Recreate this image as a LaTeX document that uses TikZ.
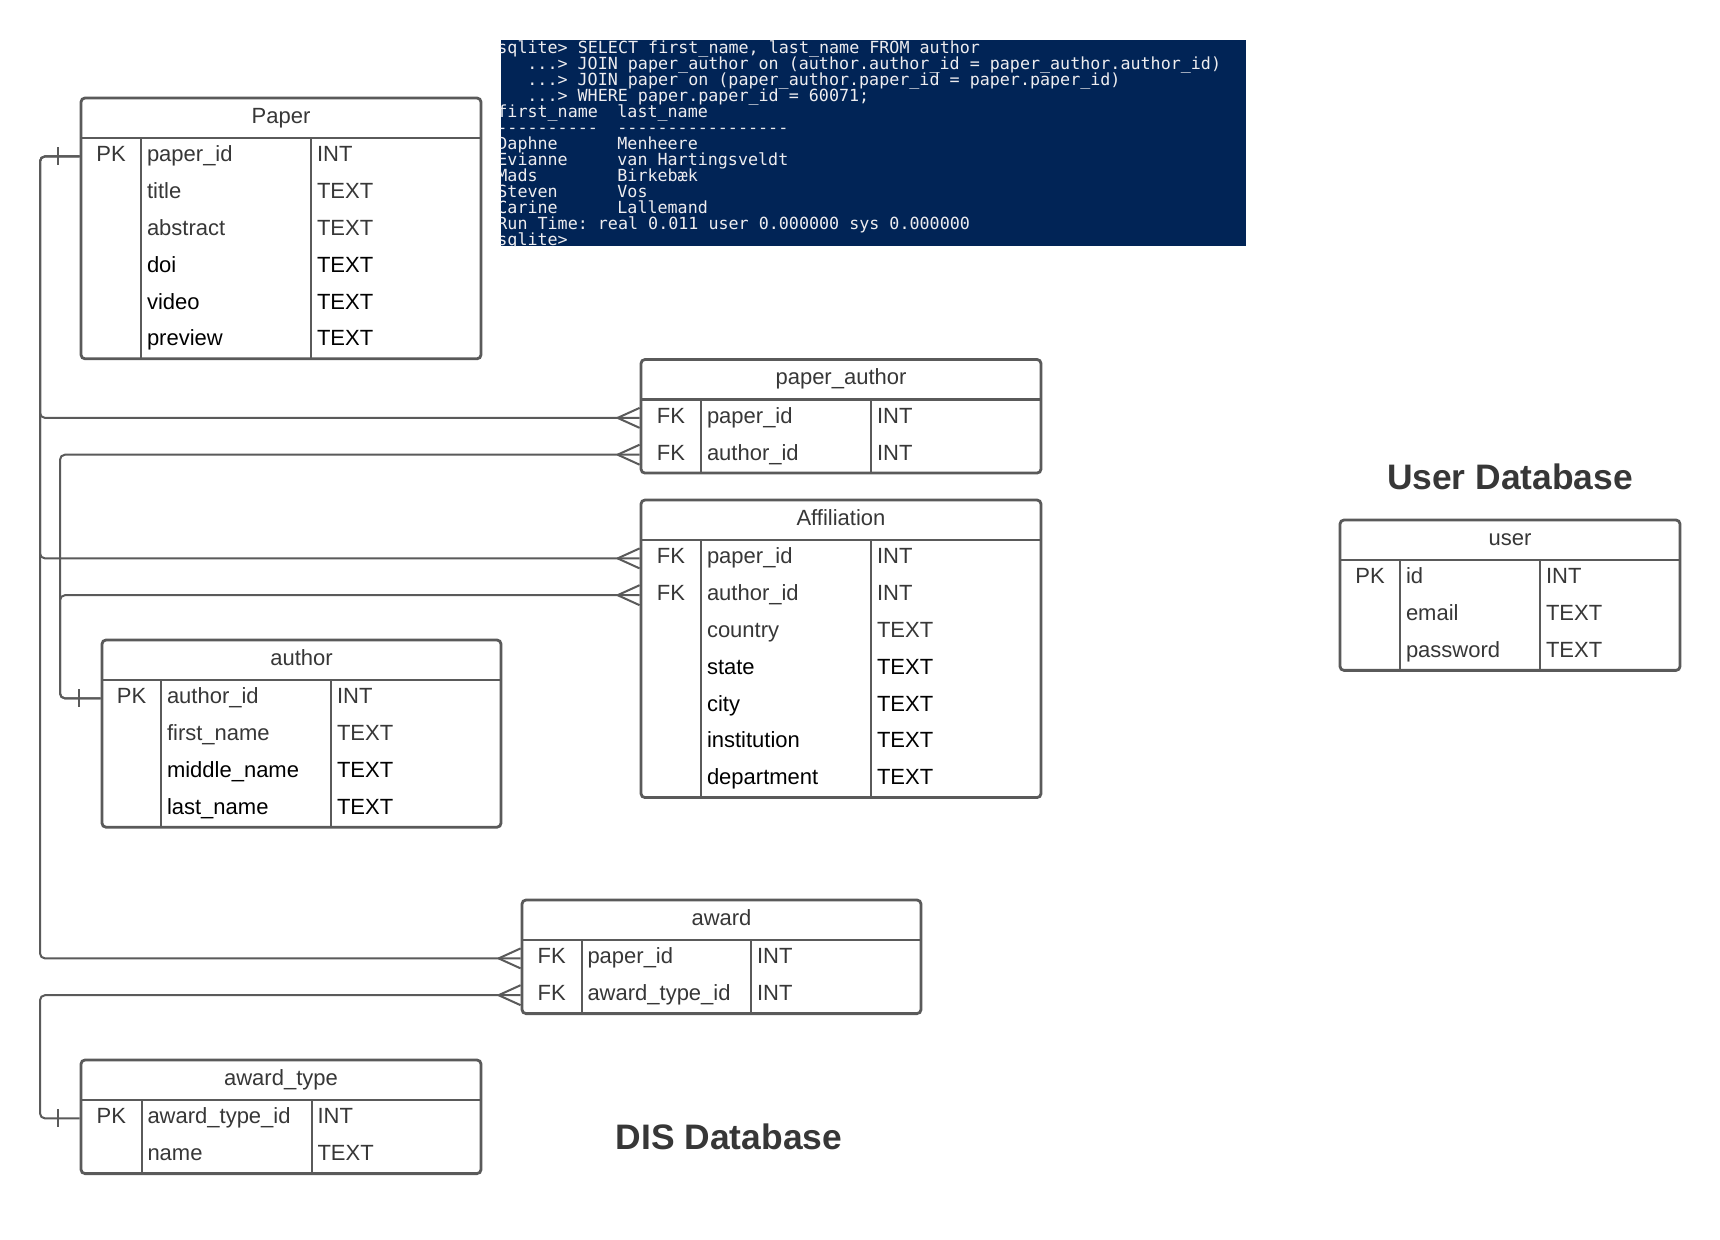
\documentclass[tikz,border=0pt]{standalone}
\usepackage{fontspec}
\setmainfont{Liberation Sans}
\newfontfamily\termfont[Ligatures=TeXOff]{DejaVu Sans Mono}
\usetikzlibrary{fit,calc}
\definecolor{lineg}{RGB}{90,90,90}
\definecolor{txtg}{RGB}{55,55,55}
\definecolor{termbg}{RGB}{1,36,86}
\definecolor{termfg}{RGB}{238,237,240}
\tikzset{
 tbl/.style={draw=lineg, line width=1.4pt, rounded corners=2pt, inner sep=0pt},
 hline/.style={draw=lineg, line width=1.4pt},
 coldiv/.style={draw=lineg, line width=1pt},
 cell/.style={inner sep=0pt, outer sep=0pt, text height=7.5pt, text depth=2pt, font=\fontsize{11}{13}\selectfont},
 gtxt/.style={text=txtg},
 btxt/.style={text=black},
 conn/.style={draw=lineg, line width=1pt, rounded corners=2.5pt},
 crowfoot/.pic={\draw[conn, rounded corners=0pt] (-22,0) -- (0,-10) (-22,0) -- (0,10);},
 onebar/.pic={\draw[conn, rounded corners=0pt] (-22,-9) -- (-22,9);},
 termline/.style={inner sep=0pt, anchor=base west, text=termfg, font=\termfont\fontsize{8.35}{8}\selectfont\frenchspacing},
 dbtitle/.style={inner sep=0pt, anchor=base, text=txtg, font=\bfseries\fontsize{17.7}{20}\selectfont},
}
\newcommand\erdtable[9]{%
 \pgfmathsetmacro\yh{#3+40}%
 \pgfmathsetmacro\yb{#3+40+36.8*#7}%
 \pgfmathsetmacro\xm{(#2+#4)/2}%
 \pgfmathsetmacro\xk{(#2+#5)/2}%
 \coordinate (#1-nw) at (#2,#3);
 \coordinate (#1-se) at (#4,\yb);
 \node[tbl, fit=(#1-nw)(#1-se)] (#1) {};
 \draw[hline] (#2,\yh) -- (#4,\yh);
 \draw[coldiv] (#5,\yh) -- (#5,\yb) (#6,\yh) -- (#6,\yb);
 \node[cell,gtxt] (#1-title) at (\xm,#3+20) {#8};
 \foreach \rk/\rf/\rt/\rc [count=\ri] in {#9} {
   \pgfmathsetmacro\yy{\yh+18.4+36.8*(\ri-1)}
   \node[cell,\rc] (#1-k\ri) at (\xk,\yy) {\rk};
   \node[cell,\rc,anchor=west] (#1-f\ri) at (#5+6,\yy) {\rf};
   \node[cell,\rc,anchor=west] (#1-t\ri) at (#6+6,\yy) {\rt};
 }
}
\begin{document}
\begin{tikzpicture}[x=0.5pt,y=-0.5pt]
\fill[white] (0,0) rectangle (1720,1240);
\useasboundingbox (0,0) rectangle (1720,1240);

% terminal screenshot
\coordinate (tnw) at (501,40);
\coordinate (tse) at (1246,246);
\node[fit=(tnw)(tse), inner sep=0pt, fill=termbg] (term) {};
\begin{scope}
\clip (term.south west) rectangle (term.north east);
\node[termline] (tl1) at (497,54) {sqlite> SELECT first\_name, last\_name FROM author};
\node[termline] (tl2) at (527,70) {...> JOIN paper\_author on (author.author\_id = paper\_author.author\_id)};
\node[termline] (tl3) at (527,86) {...> JOIN paper on (paper\_author.paper\_id = paper.paper\_id)};
\node[termline] (tl4) at (527,102) {...> WHERE paper.paper\_id = 60071;};
\node[termline] (tl5a) at (497,118) {first\_name};
\node[termline] (tl5b) at (617,118) {last\_name};
\node[termline] (tl6a) at (497,134) {----------};
\node[termline] (tl6b) at (617,134) {-----------------};
\node[termline] (tl7a) at (497,150) {Daphne};
\node[termline] (tl7b) at (617,150) {Menheere};
\node[termline] (tl8a) at (497,166) {Evianne};
\node[termline] (tl8b) at (617,166) {van Hartingsveldt};
\node[termline] (tl9a) at (497,182) {Mads};
\node[termline] (tl9b) at (617,182) {Birkebæk};
\node[termline] (tl10a) at (497,198) {Steven};
\node[termline] (tl10b) at (617,198) {Vos};
\node[termline] (tl11a) at (497,214) {Carine};
\node[termline] (tl11b) at (617,214) {Lallemand};
\node[termline] (tl12) at (497,230) {Run Time: real 0.011 user 0.000000 sys 0.000000};
\node[termline] (tl13) at (497,246) {sqlite>};
\end{scope}

% tables
\erdtable{paper}{81}{98}{481}{141}{311}{6}{Paper}{PK/paper\_id/INT/gtxt,/title/TEXT/gtxt,/abstract/TEXT/gtxt,/doi/TEXT/btxt,/video/TEXT/btxt,/preview/TEXT/btxt}
\erdtable{pa}{641}{359.5}{1041}{701}{871}{2}{paper\_author}{FK/paper\_id/INT/gtxt,FK/author\_id/INT/gtxt}
\erdtable{aff}{641}{500}{1041}{701}{871}{7}{Affiliation}{FK/paper\_id/INT/gtxt,FK/author\_id/INT/gtxt,/country/TEXT/gtxt,/state/TEXT/btxt,/city/TEXT/btxt,/institution/TEXT/btxt,/department/TEXT/btxt}
\erdtable{author}{102}{640}{501}{161}{331}{4}{author}{PK/author\_id/INT/gtxt,/first\_name/TEXT/gtxt,/middle\_name/TEXT/btxt,/last\_name/TEXT/btxt}
\erdtable{award}{522}{900}{921}{581.5}{751}{2}{award}{FK/paper\_id/INT/gtxt,FK/award\_type\_id/INT/gtxt}
\erdtable{at}{81}{1060}{481}{141.5}{311.5}{2}{award\_type}{PK/award\_type\_id/INT/gtxt,/name/TEXT/gtxt}
\erdtable{user}{1340}{520}{1680}{1400}{1540}{3}{user}{PK/id/INT/gtxt,/email/TEXT/gtxt,/password/TEXT/gtxt}

% titles
\node[dbtitle] (userdb) at (1510,490) {User Database};
\node[dbtitle] (disdb) at (729,1149) {DIS Database};

% connectors
\coordinate (busA) at (40,0);
\coordinate (busB) at (60,0);
\draw[conn] (paper.west |- paper-k1) -| (busA |- pa-k1) -- (pa.west |- pa-k1);
\draw[conn] (paper.west |- paper-k1) -| (busA |- aff-k1) -- (aff.west |- aff-k1);
\draw[conn] (paper.west |- paper-k1) -| (busA |- award-k1) -- (award.west |- award-k1);
\draw[conn] (author.west |- author-k1) -| (busB |- pa-k2) -- (pa.west |- pa-k2);
\draw[conn] (author.west |- author-k1) -| (busB |- aff-k2) -- (aff.west |- aff-k2);
\draw[conn] (at.west |- at-k1) -| (busA |- award-k2) -- (award.west |- award-k2);

\path (paper.west |- paper-k1) pic {onebar};
\path (author.west |- author-k1) pic {onebar};
\path (at.west |- at-k1) pic {onebar};
\path (pa.west |- pa-k1) pic {crowfoot};
\path (pa.west |- pa-k2) pic {crowfoot};
\path (aff.west |- aff-k1) pic {crowfoot};
\path (aff.west |- aff-k2) pic {crowfoot};
\path (award.west |- award-k1) pic {crowfoot};
\path (award.west |- award-k2) pic {crowfoot};
\end{tikzpicture}
\end{document}
